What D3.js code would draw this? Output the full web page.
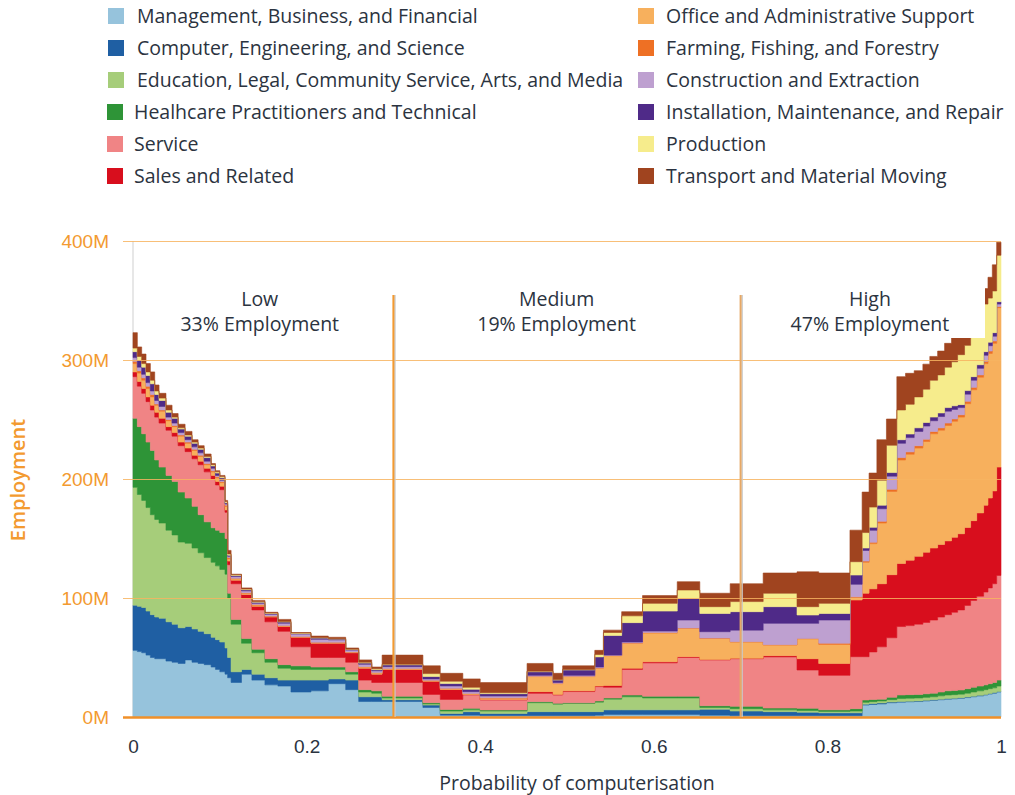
<!DOCTYPE html>
<html>
<head>
<meta charset="utf-8">
<script src="https://cdn.jsdelivr.net/npm/d3@7"></script>
<style>
  body { margin: 0; background: #fff; }
  svg { display: block; font-family: "Open Sans", sans-serif; }
</style>
</head>
<body>
<svg id="chart" width="1015" height="795"></svg>
<script>
// probability of computerisation (left edge of each step)
const probability = [0, 0.005, 0.01, 0.015, 0.02, 0.025, 0.03, 0.038, 0.045, 0.052, 0.06, 0.068, 0.075, 0.082, 0.09, 0.095, 0.1,
  0.106, 0.109, 0.113, 0.125, 0.137, 0.152, 0.167, 0.182, 0.205, 0.225, 0.245, 0.26, 0.275, 0.287,
  0.334, 0.354, 0.38, 0.4, 0.454, 0.484, 0.495, 0.532, 0.542, 0.563, 0.587, 0.627, 0.653, 0.688, 0.726, 0.765, 0.79, 0.826,
  0.84, 0.848, 0.857, 0.868, 0.88, 0.89, 0.9, 0.91, 0.918, 0.927, 0.935, 0.943, 0.95, 0.958, 0.965, 0.972, 0.98, 0.985, 0.99, 0.995, 1];

// employment in millions, per occupation group
const management = [56, 55, 54, 52, 50, 49, 49, 47, 46, 45, 48, 46, 45, 44, 42, 40, 38,
  36, 33, 29, 36, 31, 27, 26, 21, 22, 28, 23, 13, 13, 13,
  8, 1.5, 1.5, 1, 1, 1, 1, 1.5, 2, 2, 2, 2, 1.5, 1, 1, 1, 1, 1,
  10, 10.5, 11, 12, 12.5, 12.8, 13, 13.5, 14, 14.5, 15, 15.3, 15.7, 16.3, 17, 17.7, 18.5, 19.3, 20, 21, 21];
const computer = [38, 38, 38, 37, 36, 35, 34, 33, 32, 30, 28, 28, 27, 26, 25, 25, 25,
  22, 17, 9, 4, 5, 6, 5, 10, 9, 4, 8, 4, 4, 1.5,
  2, 1.5, 3, 2, 3.5, 3.5, 3.5, 3, 4, 4, 4, 4, 5, 4, 3.5, 3, 2.5, 2.5,
  0.8, 0.8, 0.8, 0.6, 0.5, 0.5, 0.5, 0.5, 0.5, 0.5, 0.5, 0.5, 0.5, 0.5, 0.5, 0.5, 0.5, 0.5, 0.5, 0.5, 0.5];
const education = [99, 94, 90, 87, 84, 82, 80, 77, 75, 72, 70, 68, 66, 64, 63, 62, 61,
  62, 50, 40, 22, 18, 13, 10, 9, 9, 8, 5, 4, 3, 1.5,
  1, 2, 1.5, 2, 7.5, 6.3, 6.9, 8, 9, 11, 10, 10, 1.5, 2, 1.5, 1.5, 1.2, 1.5,
  1.5, 1.6, 1.7, 2, 2.5, 2.5, 2.5, 2.5, 2.5, 2.8, 3, 3, 3, 3.2, 3.5, 3.8, 4, 4, 4, 4.5, 4.5];
const healthcare = [58, 57, 56, 55, 54, 50, 47, 46, 45, 42, 38, 35, 32, 30, 29, 30, 31,
  30, 4, 4, 4, 3, 3, 3, 3, 2, 2, 2, 2, 2, 1.5,
  1, 1.3, 1.3, 0.9, 0.9, 0.7, 0.5, 1, 1, 1.5, 1.5, 1.5, 1.5, 2, 1.5, 1.8, 1.3, 2,
  2, 1.8, 1.5, 2, 3, 3, 3, 3, 3, 3.2, 3.5, 3.5, 3.5, 3.8, 4, 4, 4, 4.2, 4.5, 5, 5];
const service = [35, 34, 34, 34, 34, 36, 37, 38, 38, 39, 39, 40, 42, 42, 41, 38, 36,
  22, 24, 30, 34, 33, 31, 28, 16, 8, 8, 8, 8, 7, 11.5,
  7, 8.5, 11.3, 8.4, 7, 7, 9.5, 12, 9, 21.5, 28, 32.5, 38.5, 40, 43, 32.2, 29, 43.7,
  36.4, 40, 44, 50, 57.5, 58, 59, 60, 61.5, 63, 64, 65.7, 67.3, 70, 73, 75.5, 78, 80.5, 83, 88, 88];
const sales = [4, 4, 4, 4, 4, 4, 4, 3, 3, 3, 3, 3, 3, 3, 3, 3, 3,
  2, 3, 3, 3, 3, 4, 4, 8, 12, 12, 8, 10, 7, 11,
  11, 8.3, 0.3, 0.5, 1.4, 0.5, 0.6, 0.5, 1.5, 1, 1, 0.7, 0.3, 0.3, 1, 9.5, 10, 47.6,
  53.3, 53, 53, 53, 53, 55, 57, 59, 60.5, 61, 62, 63, 64, 65.5, 67, 70, 73, 75.5, 78, 91, 91];
const office = [7, 7, 7, 7, 7, 6, 6, 5, 5, 5, 4, 4, 4, 3, 3, 3, 3,
  3, 2, 1, 1, 1, 0.5, 0.5, 0.5, 0.5, 0.5, 0.5, 1, 1, 0.5,
  0.5, 0.7, 0.6, 1, 12.7, 9, 12, 15, 25, 21, 24, 23.8, 17.7, 13.7, 9, 16.7, 16, 2.2,
  26, 38, 51, 70, 87, 89, 91, 93, 96, 96, 97, 97.5, 98, 104, 110, 114, 119, 121.5, 124, 134, 134];
const farming = [2, 2, 2, 2, 2, 1, 1, 1, 1, 1, 1, 1, 1, 1, 1, 1, 1,
  1, 1, 0.5, 0.5, 0.5, 0.3, 0.3, 0.2, 0.3, 0.3, 0.2, 0.3, 0.3, 0.3,
  0.3, 0.3, 0.3, 0.3, 0.3, 0.3, 0.3, 0.3, 0.3, 0.3, 0.5, 0.3, 0.3, 0.3, 0.3, 0.3, 1, 0.5,
  1, 1.2, 1.5, 1.8, 2, 2, 2, 2, 2, 2, 2, 2, 2, 2, 2, 2, 2, 2, 2, 1, 1];
const construction = [3, 3, 3, 3, 3, 3, 3, 2, 2, 2, 2, 2, 2, 2, 2, 1, 1,
  1, 1, 1.5, 1.5, 1, 1.5, 2, 2, 2.5, 2, 1.5, 2, 1.5, 1.5,
  1.2, 2, 1.5, 1.5, 0.7, 0.7, 0.7, 0.7, 0.2, 0.7, 1.2, 6.7, 5.4, 9.7, 17.9, 12.7, 19.5, 10.5,
  9, 10, 10.5, 11, 12, 12, 12, 11, 9, 9.5, 10, 8, 6, 6, 6, 5.5, 5, 4.5, 4, 2, 2];
const installation = [5, 6, 6, 6, 6, 5, 5, 4, 4, 3, 3, 3, 3, 3, 2, 2, 2,
  1, 1, 1, 1, 1, 0.7, 1, 0.5, 1, 0.7, 0.5, 1, 1, 1.5,
  2, 2, 2, 2, 3, 2, 4.5, 8.5, 16.5, 16.3, 16.8, 18.2, 15.3, 15.5, 14, 7, 5.5, 7.8,
  2, 2.5, 3, 3, 3, 3, 3, 3, 3, 3, 3, 3, 2.5, 3, 3, 3, 3, 3, 3, 2, 2];
const production = [3, 3, 3, 3, 3, 3, 2, 2, 1, 1, 1, 1, 1, 1, 1, 1, 1,
  1, 1, 0.5, 0.5, 0.5, 0.3, 0.5, 0.3, 0.5, 0.3, 0.3, 0.7, 0.7, 0.5,
  2.5, 2, 1.7, 0.8, 0.5, 0.5, 0.5, 2, 2.5, 5.7, 6.5, 7, 5.7, 8.5, 11.3, 7, 8.5, 11.2,
  13, 17, 21, 23, 25, 25, 26, 28, 31, 32, 34, 37, 42, 38, 34, 37, 40, 37, 35, 39, 39];
const transport = [13, 8, 8, 7, 7, 5, 4, 4, 3, 3, 3, 2, 2, 2, 1, 1, 1,
  1, 3, 0.5, 1, 1, 0.7, 1.7, 0.5, 1.2, 1.2, 1, 2, 1.5, 7.7,
  6.5, 6.6, 7, 8.5, 6.5, 5.2, 3, 3.5, 2, 3.5, 6.5, 7, 11.3, 15, 17, 29.3, 25.5, 26.5,
  34, 28.6, 34, 22, 28, 26, 22, 21, 20, 20, 20, 20, 20, 17, 15, 14, 13, 17.5, 22, 11, 11];

const groups = [
  { key: 'management',   label: 'Management, Business, and Financial',                 color: '#96c3dc', values: management },
  { key: 'computer',     label: 'Computer, Engineering, and Science',                  color: '#1f5fa3', values: computer },
  { key: 'education',    label: 'Education, Legal, Community Service, Arts, and Media', color: '#a6cd7a', values: education },
  { key: 'healthcare',   label: 'Healhcare Practitioners and Technical',               color: '#2e9437', values: healthcare },
  { key: 'service',      label: 'Service',                                             color: '#f08485', values: service },
  { key: 'sales',        label: 'Sales and Related',                                   color: '#d80e1d', values: sales },
  { key: 'office',       label: 'Office and Administrative Support',                   color: '#f7b05d', values: office },
  { key: 'farming',      label: 'Farming, Fishing, and Forestry',                      color: '#ee7024', values: farming },
  { key: 'construction', label: 'Construction and Extraction',                         color: '#bea0d0', values: construction },
  { key: 'installation', label: 'Installation, Maintenance, and Repair',               color: '#4f2a88', values: installation },
  { key: 'production',   label: 'Production',                                          color: '#f6ec8c', values: production },
  { key: 'transport',    label: 'Transport and Material Moving',                       color: '#a0441f', values: transport }
];

const zones = [
  { at: 0.3, color: '#f39a30' },
  { at: 0.7, color: '#e6a866' }
];
const zoneLabels = [
  { x: 0.146, title: 'Low',    share: '33% Employment' },
  { x: 0.488, title: 'Medium', share: '19% Employment' },
  { x: 0.849, title: 'High',   share: '47% Employment' }
];

const yTicks = [0, 100, 200, 300, 400];
const xTicks = [0, 0.2, 0.4, 0.6, 0.8, 1];

const svg = d3.select('#chart');
const textColor = '#2b3340';
const orange = '#f39a30';

const margin = { top: 241, right: 14, bottom: 78, left: 133 };
const width = +svg.attr('width');
const height = +svg.attr('height');

const x = d3.scaleLinear().domain([0, 1]).range([margin.left, width - margin.right]);
const y = d3.scaleLinear().domain([0, 400]).range([height - margin.bottom, margin.top]);

const rows = probability.map((p, i) => {
  const row = { p: p };
  groups.forEach(g => { row[g.key] = g.values[i]; });
  return row;
});

const stack = d3.stack().keys(groups.map(g => g.key));
const layers = stack(rows);

const area = d3.area()
  .x(d => x(d.data.p))
  .y0(d => y(d[0]))
  .y1(d => y(d[1]))
  .curve(d3.curveStepAfter);

// left edge line
svg.append('line')
  .attr('x1', x(0)).attr('x2', x(0))
  .attr('y1', y(400)).attr('y2', y(0))
  .attr('stroke', '#cfcfcf');

svg.append('g')
  .selectAll('path')
  .data(layers)
  .enter()
  .append('path')
  .attr('d', area)
  .attr('fill', (d, i) => groups[i].color)
  .attr('stroke', (d, i) => groups[i].color)
  .attr('stroke-width', 0.6);

// y axis with grid lines on top of the areas
const yAxis = d3.axisLeft(y)
  .tickValues(yTicks)
  .tickFormat(d => d + 'M')
  .tickSize(-(x(1) - x(0) + 10))
  .tickPadding(14);

const gy = svg.append('g')
  .attr('transform', 'translate(' + (x(0) - 10) + ',0)')
  .call(yAxis);
gy.select('.domain').remove();
gy.selectAll('line')
  .attr('stroke', d => d === 0 ? '#f0902a' : '#f7b460')
  .attr('stroke-width', d => d === 0 ? 2.5 : 1)
  .attr('stroke-opacity', d => d === 0 ? 1 : 0.85);
gy.selectAll('text')
  .attr('fill', orange)
  .style('font-size', '19px');

const xAxis = d3.axisBottom(x)
  .tickValues(xTicks)
  .tickFormat(d => (d === 0 || d === 1) ? String(d) : d3.format('.1f')(d))
  .tickSize(0)
  .tickPadding(23);

const gx = svg.append('g')
  .attr('transform', 'translate(0,' + y(0) + ')')
  .call(xAxis);
gx.select('.domain').remove();
gx.selectAll('text')
  .attr('fill', textColor)
  .style('font-size', '19px');

// zone separators
zones.forEach(z => {
  svg.append('line')
    .attr('x1', x(z.at) + 1.5).attr('x2', x(z.at) + 1.5)
    .attr('y1', 295).attr('y2', y(0))
    .attr('stroke', '#c9c9c9')
    .attr('stroke-width', 1.5);
  svg.append('line')
    .attr('x1', x(z.at)).attr('x2', x(z.at))
    .attr('y1', 295).attr('y2', y(0))
    .attr('stroke', z.color)
    .attr('stroke-width', 2);
});

// label box for the high zone
svg.append('rect')
  .attr('x', 748).attr('y', 276)
  .attr('width', 237).attr('height', 62)
  .attr('fill', '#fff');

zoneLabels.forEach(l => {
  const t = svg.append('text')
    .attr('x', x(l.x))
    .attr('text-anchor', 'middle')
    .attr('fill', textColor)
    .style('font-size', '19.5px');
  t.append('tspan').attr('x', x(l.x)).attr('y', 306).text(l.title);
  t.append('tspan').attr('x', x(l.x)).attr('y', 331).text(l.share);
});

// axis titles
svg.append('text')
  .attr('x', 577).attr('y', 790)
  .attr('text-anchor', 'middle')
  .attr('fill', textColor)
  .style('font-size', '19.5px')
  .text('Probability of computerisation');

svg.append('text')
  .attr('transform', 'translate(25,480) rotate(-90)')
  .attr('text-anchor', 'middle')
  .attr('fill', orange)
  .style('font-size', '20px')
  .style('font-weight', '600')
  .text('Employment');

// legend, two columns of six
const legend = svg.append('g');
groups.forEach((g, i) => {
  const col = i < 6 ? 0 : 1;
  const row = i % 6;
  const cy = 16 + row * 32;
  const sx = col === 0 ? (row < 3 ? 108 : 107) : 638;
  const tx = col === 0 ? (row < 3 ? 137 : 134) : 666;
  legend.append('rect')
    .attr('x', sx).attr('y', cy - 8)
    .attr('width', 16).attr('height', 16)
    .attr('fill', g.color);
  legend.append('text')
    .attr('x', tx).attr('y', cy)
    .attr('dy', '0.35em')
    .attr('fill', textColor)
    .style('font-size', '19.5px')
    .text(g.label);
});
</script>
</body>
</html>
